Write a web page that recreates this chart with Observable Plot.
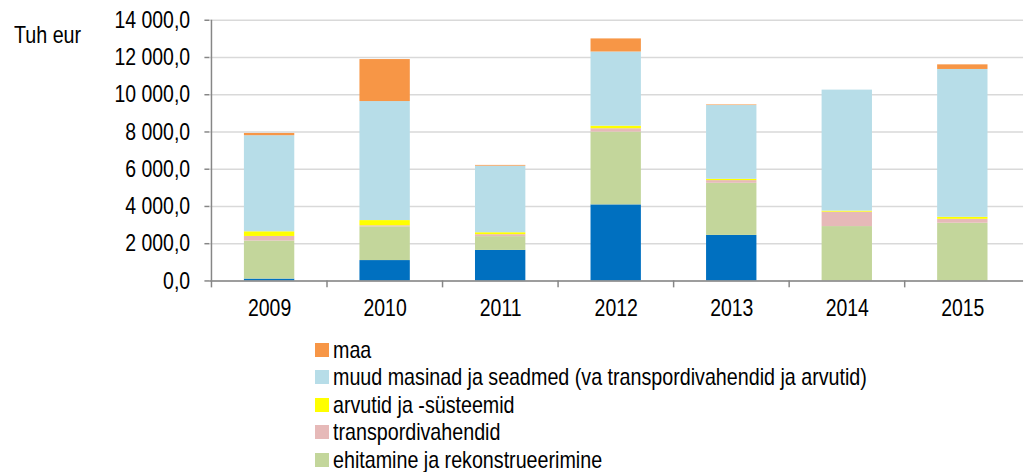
<!DOCTYPE html>
<html>
<head>
<meta charset="utf-8">
<script src="https://cdn.jsdelivr.net/npm/d3@7"></script>
<script src="https://cdn.jsdelivr.net/npm/@observablehq/plot@0.6"></script>
<style>
  html, body { margin: 0; padding: 0; background: #fff; }
  #wrap { position: relative; width: 1027px; height: 472px; overflow: hidden; font-family: "Liberation Sans", Arial, sans-serif; }
  #unit { position: absolute; left: 14px; top: 21px; font-size: 24px; color: #000; transform: scaleX(0.82); transform-origin: 0 0; }
  #legend { position: absolute; left: 315px; top: 336px; font-size: 24px; color: #000; }
  .row { height: 27.5px; display: flex; align-items: center; white-space: nowrap; }
  .sw { width: 14px; height: 14px; margin-right: 4px; flex: none; }
  .lt { display: inline-block; transform: scaleX(0.82); transform-origin: 0 50%; }
</style>
</head>
<body>
<div id="wrap">
  <div id="chart"></div>
  <div id="unit">Tuh eur</div>
  <div id="legend"></div>
</div>
<script>
const years = ["2009", "2010", "2011", "2012", "2013", "2014", "2015"];
// stacking order bottom -> top
const seriesNames = [
  "immateriaalne põhivara",
  "ehitamine ja rekonstrueerimine",
  "transpordivahendid",
  "arvutid ja -süsteemid",
  "muud masinad ja seadmed (va transpordivahendid ja arvutid)",
  "maa"
];
const seriesColors = ["#0070C0", "#C3D69B", "#E6B9B8", "#FFFF00", "#B7DDE8", "#F79646"];
const immateriaalne = [100, 1095, 1640, 4085, 2445, 0, 0];
const ehitamine = [2045, 1812, 740, 3910, 2800, 2920, 3100];
const transpordivahendid = [245, 55, 105, 180, 143, 775, 211];
const arvutid = [250, 280, 105, 137, 70, 55, 106];
const muudMasinad = [5160, 6392, 3575, 3983, 3962, 6498, 7940];
const maa = [120, 2255, 40, 703, 30, 0, 248];
// legend entries visible in the picture (top -> bottom)
const legendNames = seriesNames.slice(1).reverse();
const yTicks = [0, 2000, 4000, 6000, 8000, 10000, 12000, 14000];

const seriesValues = [immateriaalne, ehitamine, transpordivahendid, arvutid, muudMasinad, maa];
const data = [];
seriesNames.forEach((s, si) => years.forEach((y, yi) => data.push({year: y, series: s, value: seriesValues[si][yi]})));

const W = 1040, mL = 212, mR = 4;
const step = (W - mL - mR) / years.length;
const fmt = d3.formatLocale({decimal: ",", thousands: " ", grouping: [3], currency: ["", ""]}).format(",.1f");

const chart = Plot.plot({
  width: W,
  height: 335,
  marginLeft: mL,
  marginRight: mR,
  marginTop: 20,
  marginBottom: 51,
  style: {fontFamily: "'Liberation Sans', Arial, sans-serif", fontSize: "24px", color: "#000", background: "#fff"},
  x: {domain: years, paddingInner: 0.56, paddingOuter: 0.28, label: null},
  y: {domain: [0, 14000], label: null},
  color: {domain: seriesNames, range: seriesColors},
  marks: [
    Plot.gridY(yTicks, {stroke: "#D9D9D9", strokeOpacity: 1, strokeWidth: 1.5}),
    Plot.barY(data, {x: "year", y: "value", fill: "series", order: seriesNames}),
    Plot.ruleY([0], {stroke: "#868686", strokeWidth: 1.5}),
    Plot.ruleX([years[0]], {y1: 0, y2: 14000, dx: -step / 2, stroke: "#868686", strokeWidth: 1.5}),
    Plot.axisY({ticks: yTicks, tickFormat: fmt, tickSize: 5, tickPadding: 15, stroke: "#868686", strokeWidth: 1.5, fill: "#000", label: null}),
    Plot.axisX({tickSize: 7, tickFormat: () => "", dx: -step / 2, stroke: "#868686", strokeWidth: 1.5, label: null}),
    Plot.axisX({tickSize: 0, tickPadding: 18, fill: "#000", label: null})
  ]
});
// condense text horizontally (reference uses a narrow face)
chart.querySelectorAll("text").forEach(t => {
  const tr = t.getAttribute("transform");
  if (tr) {
    t.setAttribute("transform", tr + " scale(0.82,1)");
  } else {
    const x = +(t.getAttribute("x") || 0), y = +(t.getAttribute("y") || 0);
    t.removeAttribute("x"); t.removeAttribute("y");
    t.setAttribute("transform", `translate(${x},${y}) scale(0.82,1)`);
  }
});
document.getElementById("chart").appendChild(chart);

const legend = document.getElementById("legend");
legendNames.forEach(name => {
  const row = document.createElement("div");
  row.className = "row";
  const sw = document.createElement("span");
  sw.className = "sw";
  sw.style.background = seriesColors[seriesNames.indexOf(name)];
  const t = document.createElement("span");
  t.className = "lt";
  t.textContent = name;
  row.appendChild(sw);
  row.appendChild(t);
  legend.appendChild(row);
});
</script>
</body>
</html>
